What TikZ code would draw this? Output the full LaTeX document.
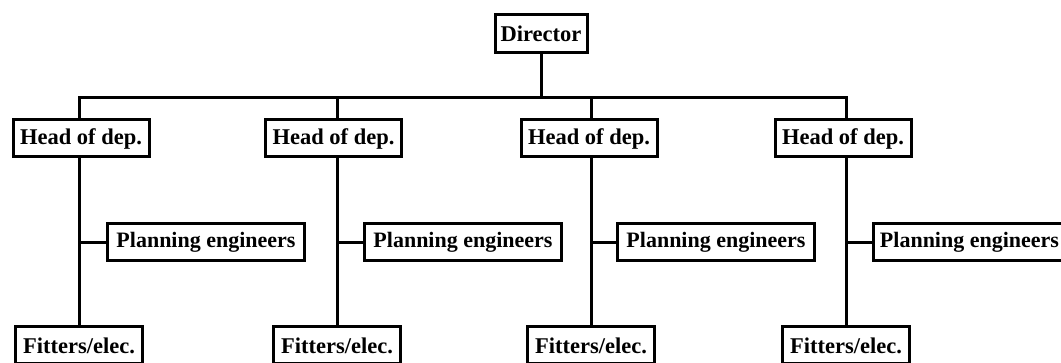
\documentclass[tikz,border=0pt]{standalone}
\usepackage{fontspec}
\setmainfont{Liberation Serif}
\begin{document}
\begin{tikzpicture}[x=1pt,y=-1pt,
  box/.style={draw, line width=3pt, inner sep=0pt, minimum height=37pt,
    font=\fontsize{22.5}{24}\selectfont\bfseries},
  pbox/.style={box, minimum width=#1, anchor=west, font=\fontsize{22}{24}\selectfont\bfseries},
  link/.style={line width=3pt, line cap=rect}]
\useasboundingbox (0,0) rectangle (1061,363);
\clip (0,0) rectangle (1061,363);
\node[box, minimum width=92pt, minimum height=38pt] (dir) at (541,34) {Director};
\foreach \i/\vx/\hx/\px/\pw in {1/79/81/106/197pt, 2/337/333.5/363/197pt, 3/591/589/616/197pt, 4/846/843/872/192pt}{
  \coordinate (v\i) at (\vx,98);
  \node[box, minimum width=136pt] (h\i) at (\hx,138.5) {Head of dep.};
  \node[pbox=\pw] (p\i) at (\px,242.5) {Planning engineers};
  \node[box, minimum width=127pt] (f\i) at (\vx,345.5) {Fitters/elec.};
  \draw[link] (v\i) -- (v\i |- h\i.north);
  \draw[link] (v\i |- h\i.south) -- (v\i |- f\i.north);
  \draw[link] (v\i |- p\i.west) -- (p\i.west);
}
\draw[link] (v1) -- (v4);
\draw[link] (dir.south) -- (dir.south |- v1);
\end{tikzpicture}
\end{document}
